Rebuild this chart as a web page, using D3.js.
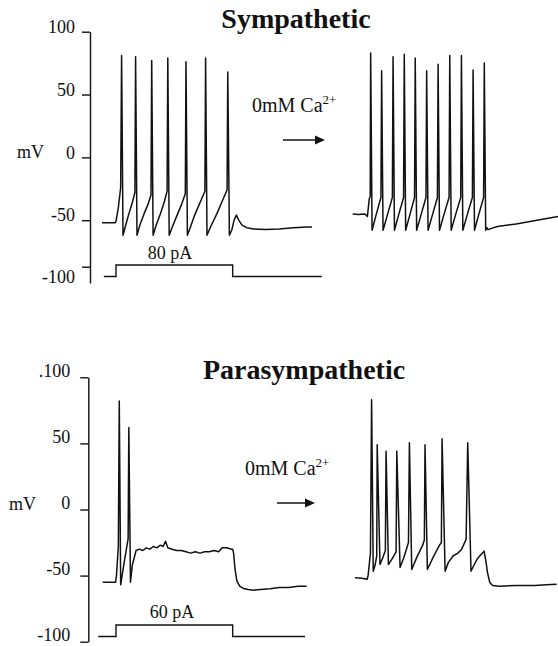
<!DOCTYPE html>
<html>
<head>
<meta charset="utf-8">
<script src="https://cdn.jsdelivr.net/npm/d3@7"></script>
<style>
  body { margin: 0; background: #fff; }
  svg { display: block; }
</style>
</head>
<body>
<div id="chart"></div>
<script>
;(function () {
  // all traces: [time ms, membrane potential mV]
  const symControl = [
    [0, -52], [56, -52], [60, -51], [70, -40], [80, -24], [84, 81], [90, -62],
    [100, -55], [115, -45], [130, -36], [141, -28], [144, 80], [150, -62],
    [162, -54], [180, -45], [198, -37], [210, -30], [213, 77], [219, -62],
    [232, -54], [250, -45], [266, -36], [279, -27], [282, 79], [288, -62],
    [302, -55], [322, -46], [342, -37], [357, -29], [360, 76], [366, -62],
    [378, -56], [395, -47], [420, -36], [441, -27], [444, 79], [450, -62],
    [466, -55], [492, -45], [515, -35], [536, -26], [539, 68], [546, -62],
    [556, -58], [566, -50], [576, -46], [586, -50], [600, -54], [620, -56],
    [650, -57], [700, -57.5], [760, -57], [820, -56], [880, -55.5], [900, -55.5]
  ]
  const symZeroCa = [
    [0, -45], [25, -45.5], [50, -45], [58, -46], [63, -47], [71, -33], [75, -31], [77, 83], [83, -58],
    [100, -46], [121, -32], [124, 69], [130, -58],
    [150, -45], [170, -32], [173, 80], [179, -58],
    [198, -45], [218, -32], [221, 82], [227, -58],
    [246, -45], [265, -32], [268, 79], [274, -58],
    [294, -45], [314, -32], [317, 69], [323, -58],
    [343, -45], [363, -32], [366, 74], [372, -58],
    [392, -45], [413, -32], [416, 81], [422, -58],
    [442, -45], [463, -32], [466, 81], [472, -58],
    [492, -45], [513, -32], [516, 69.5], [522, -58],
    [541, -45], [561, -32], [564, 75], [570, -58],
    [575, -56], [580, -57.5], [620, -55], [700, -53], [760, -51], [820, -49], [880, -47]
  ]
  const paraControl = [
    [3, -55], [30, -55], [58, -55], [62, -50], [70, -28], [74, 82], [80, -57],
    [95, -40], [112, -22], [115, 62], [122, -55], [130, -42], [146, -31],
    [160, -30], [175, -31], [190, -29], [205, -30], [220, -28], [235, -29],
    [250, -27], [262, -28], [272, -24], [282, -29], [300, -30], [320, -31],
    [340, -31], [360, -32], [380, -33], [400, -32], [420, -33], [440, -32],
    [460, -32], [480, -31], [500, -32], [515, -29], [535, -29], [555, -30],
    [560, -30], [564, -33], [570, -45], [578, -54], [590, -58], [610, -60],
    [627, -60.5], [650, -61], [680, -60.5], [720, -60], [760, -59], [800, -59],
    [840, -58], [877, -58]
  ]
  const paraZeroCa = [
    [10, -51.6], [40, -52], [62, -52.8], [66, -50], [76, -33], [81, 83], [88, -46.7],
    [96, -42], [103, -35], [105, 49], [117, -41.6],
    [130, -36], [140, -31], [143, 44], [153, -41.6],
    [170, -37], [186, -32], [189, 44], [203, -43.9],
    [220, -36], [239, -25], [243, 50.5], [253, -45.4],
    [275, -36], [300, -27], [307, -23], [310, 49], [320, -45.4],
    [345, -36], [372, -27], [380, -25], [383, 53.5], [396, -46.7],
    [410, -40], [431, -35], [451, -33], [467, -30], [486, -22.6], [493, 50.5], [507, -46.7],
    [520, -42], [535, -37], [550, -34], [563, -31.5], [570, -38], [578, -48],
    [588, -55.4], [600, -57.5], [630, -58], [700, -57.5], [780, -57.5], [830, -57], [874, -56.6]
  ]

  // current steps: [time ms, pA]
  const stepSym = [[8, 0], [60, 0], [60, 80], [560, 80], [560, 0], [942, 0]]
  const stepPara = [[-16, 0], [60, 0], [60, 60], [560, 60], [560, 0], [870, 0]]

  const tickValues = [100, 50, 0, -50, -100]

  const width = 558
  const height = 646
  const serif = "'Liberation Serif', 'Times New Roman', serif"
  const ink = "#111"

  const svg = d3.select("#chart").append("svg").attr("width", width).attr("height", height)
    .style("background", "#fff")

  // same time base for every trace, right-hand traces are shifted over
  const xLeft = d3.scaleLinear().domain([0, 900]).range([102, 312])
  const xRight = d3.scaleLinear().domain([0, 900]).range([352.7, 562.7])

  const panels = [
    {
      title: "Sympathetic", titleX: 296, titleY: 28,
      y: d3.scaleLinear().domain([100, -100]).range([31.7, 283]),
      // the -100 tick of the original sits a bit higher than a linear axis
      axisY: d3.scaleLinear().domain([100, -50, -100, -118]).range([31.7, 220.2, 266.7, 283]),
      axisX: 90, labelShift: d => (d === -100 ? 10 : -5), padding: 7,
      tickFormat: d => String(d),
      mvY: 158, mvX: 17,
      control: symControl, zero: symZeroCa,
      step: stepSym, current: d3.scaleLinear().domain([0, 80]).range([276.5, 265]),
      stepLabel: "80 pA", stepLabelX: 170, stepLabelY: 259,
      caX: 252, caY: 111.7, arrow: [283, 325, 140]
    },
    {
      title: "Parasympathetic", titleX: 304, titleY: 379,
      y: d3.scaleLinear().domain([100, -100]).range([377.3, 641.7]),
      axisY: d3.scaleLinear().domain([100, -100]).range([377.3, 641.7]),
      axisX: 88.3, labelShift: () => -7, padding: 10,
      tickFormat: d => (d === 100 ? ".100" : String(d)),
      mvY: 510, mvX: 9,
      control: paraControl, zero: paraZeroCa,
      step: stepPara, current: d3.scaleLinear().domain([0, 60]).range([636.5, 625]),
      stepLabel: "60 pA", stepLabelX: 172, stepLabelY: 618,
      caX: 245, caY: 475, arrow: [277, 315, 503]
    }
  ]

  panels.forEach(drawPanel)

  function drawPanel(p) {
    // title
    svg.append("text")
      .attr("x", p.titleX).attr("y", p.titleY)
      .attr("text-anchor", "middle")
      .attr("font-family", serif).attr("font-weight", "bold").attr("font-size", 28)
      .attr("fill", ink)
      .text(p.title)

    // voltage axis
    const axis = svg.append("g")
      .attr("transform", `translate(${p.axisX},0)`)
      .call(d3.axisLeft(p.axisY).tickValues(tickValues).tickFormat(p.tickFormat)
        .tickSize(8).tickSizeOuter(0).tickPadding(p.padding))
    axis.attr("font-family", serif).attr("font-size", 18)
    axis.selectAll("path, line").attr("stroke", ink).attr("stroke-width", 1.4)
    axis.selectAll(".tick text").attr("fill", ink).attr("y", p.labelShift)

    svg.append("text")
      .attr("x", p.mvX).attr("y", p.mvY)
      .attr("font-family", serif).attr("font-size", 18).attr("fill", ink)
      .text("mV")

    const line = xs => d3.line().x(d => xs(d[0])).y(d => p.y(d[1]))

    svg.append("path").datum(p.control)
      .attr("d", line(xLeft))
      .attr("fill", "none").attr("stroke", ink).attr("stroke-width", 1.5)
      .attr("stroke-linejoin", "round")

    svg.append("path").datum(p.zero)
      .attr("d", line(xRight))
      .attr("fill", "none").attr("stroke", ink).attr("stroke-width", 1.5)
      .attr("stroke-linejoin", "round")

    // injected current step
    svg.append("path").datum(p.step)
      .attr("d", d3.line().x(d => xLeft(d[0])).y(d => p.current(d[1])))
      .attr("fill", "none").attr("stroke", ink).attr("stroke-width", 1.4)

    svg.append("text")
      .attr("x", p.stepLabelX).attr("y", p.stepLabelY)
      .attr("text-anchor", "middle")
      .attr("font-family", serif).attr("font-size", 18).attr("fill", ink)
      .text(p.stepLabel)

    // 0mM Ca2+ and arrow
    const ca = svg.append("text")
      .attr("x", p.caX).attr("y", p.caY)
      .attr("font-family", serif).attr("font-size", 20).attr("fill", ink)
    ca.append("tspan").text("0mM Ca")
    ca.append("tspan").attr("font-size", 13).attr("dy", -8).text("2+")

    const [x1, x2, ay] = p.arrow
    svg.append("line")
      .attr("x1", x1).attr("x2", x2 - 6).attr("y1", ay).attr("y2", ay)
      .attr("stroke", ink).attr("stroke-width", 1.5)
    svg.append("path")
      .attr("d", `M${x2},${ay}L${x2 - 10},${ay - 4.5}L${x2 - 10},${ay + 4.5}Z`)
      .attr("fill", ink)
  }
})()
</script>
</body>
</html>
